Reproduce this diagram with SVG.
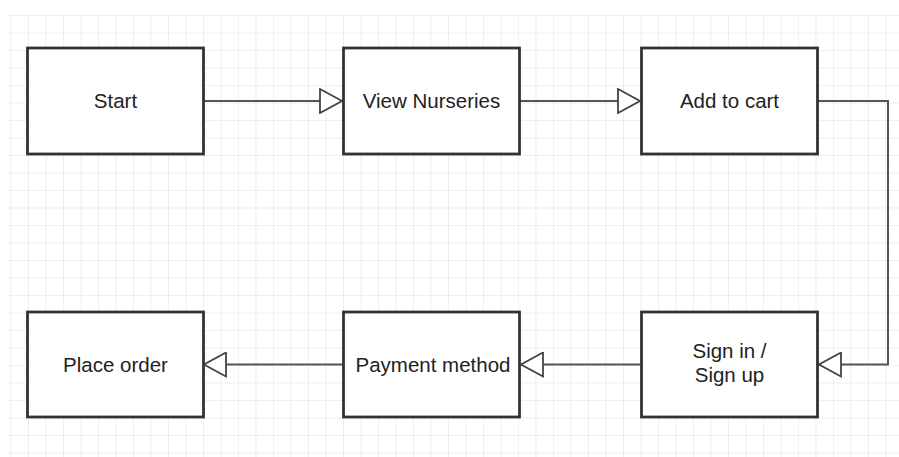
<svg xmlns="http://www.w3.org/2000/svg" width="899" height="457" viewBox="0 0 899 457">
<defs>
<pattern id="grid" patternUnits="userSpaceOnUse" x="10.5" y="15" width="17.5" height="17.5">
<path d="M0 0H17.5M0 0V17.5" fill="none" stroke="#dddde8" stroke-width="1"/>
</pattern>
<marker id="tri" viewBox="0 0 24 26" refX="23" refY="13" markerWidth="24" markerHeight="26" markerUnits="userSpaceOnUse" orient="auto">
<path d="M1 1L23 13L1 25Z" fill="#fff" stroke="#444" stroke-width="1.8" stroke-linejoin="miter"/>
</marker>
<style>
.box{fill:#fff;stroke:#333;stroke-width:2.8}
.lbl{font-family:"Liberation Sans",Arial,sans-serif;font-size:20.5px;fill:#222;text-anchor:middle}
.edge{fill:none;stroke:#555;stroke-width:2}
</style>
</defs>
<rect x="0" y="0" width="899" height="457" fill="#fff"/>
<rect x="8" y="15" width="891" height="442" fill="url(#grid)"/>
<g id="connectors">
<path class="edge" d="M203 101H342" marker-end="url(#tri)"/>
<path class="edge" d="M520 101H640" marker-end="url(#tri)"/>
<path class="edge" d="M818 101H888V364.5H819" marker-end="url(#tri)"/>
<path class="edge" d="M641 364.5H521" marker-end="url(#tri)"/>
<path class="edge" d="M343 364.5H204" marker-end="url(#tri)"/>
</g>
<g id="start">
<rect class="box" x="27.5" y="48" width="176" height="106"/>
<text class="lbl" x="115.5" y="108">Start</text>
</g>
<g id="view-nurseries">
<rect class="box" x="343.5" y="48" width="176" height="106"/>
<text class="lbl" x="431.5" y="108">View Nurseries</text>
</g>
<g id="add-to-cart">
<rect class="box" x="641.5" y="48" width="176" height="106"/>
<text class="lbl" x="729.5" y="108">Add to cart</text>
</g>
<g id="sign-in">
<rect class="box" x="641.5" y="312" width="176" height="105"/>
<text class="lbl" x="729.5" y="358">Sign in /</text>
<text class="lbl" x="729.5" y="382">Sign up</text>
</g>
<g id="payment-method">
<rect class="box" x="343.5" y="312" width="176" height="105"/>
<text class="lbl" x="433" y="372">Payment method</text>
</g>
<g id="place-order">
<rect class="box" x="27.5" y="312" width="176" height="105"/>
<text class="lbl" x="115.5" y="372">Place order</text>
</g>
</svg>
